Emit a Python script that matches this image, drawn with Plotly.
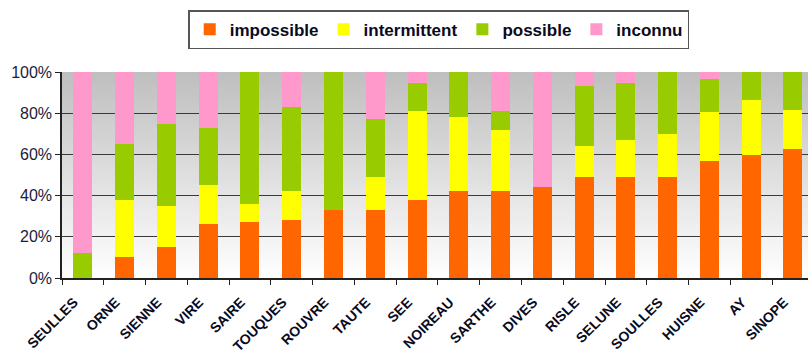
import plotly.graph_objects as go

rivieres = ["SEULLES", "ORNE", "SIENNE", "VIRE", "SAIRE", "TOUQUES", "ROUVRE", "TAUTE", "SEE",
            "NOIREAU", "SARTHE", "DIVES", "RISLE", "SELUNE", "SOULLES", "HUISNE", "AY", "SINOPE"]

impossible = [0, 10, 15, 26, 27, 28, 33, 33, 38, 42, 42, 44, 49, 49, 49, 57, 59.5, 62.5]
intermittent = [0, 28, 20, 19, 9, 14, 0, 16, 43, 36, 30, 0, 15, 18, 21, 23.5, 27, 19]
possible = [12, 27, 40, 28, 64, 41, 67, 28, 13.5, 22, 9, 0, 29, 27.5, 30, 16, 13.5, 18.5]
inconnu = [88, 35, 25, 27, 0, 17, 0, 23, 5.5, 0, 19, 56, 7, 5.5, 0, 3.5, 0, 0]

y_ticks = [0, 20, 40, 60, 80, 100]
y_labels = ["0%", "20%", "40%", "60%", "80%", "100%"]

series = [
    ("impossible", impossible, "#FF6600"),
    ("intermittent", intermittent, "#FFFF00"),
    ("possible", possible, "#99CC00"),
    ("inconnu", inconnu, "#FF99CC"),
]

fig = go.Figure()
for nom, vals, couleur in series:
    fig.add_trace(go.Bar(x=rivieres, y=vals, name=nom, marker=dict(color=couleur, line=dict(width=0))))

# fond en dégradé gris -> blanc (bandes qui se chevauchent pour éviter les traits)
n = 50
shapes = []
for k in range(n):
    t = (k + 0.5) / n
    g = int(round(255 - (255 - 190) * t))
    shapes.append(dict(type="rect", xref="paper", yref="paper", x0=0, x1=1,
                       y0=k / n, y1=min(1, (k + 1.6) / n), layer="below",
                       fillcolor=f"rgb({g},{g},{g})", line=dict(width=0)))

fig.update_layout(
    width=808, height=358,
    margin=dict(l=62, r=0, t=72, b=80, autoexpand=False),
    barmode="stack", barnorm="percent", bargap=0.545,
    paper_bgcolor="white", plot_bgcolor="rgba(0,0,0,0)",
    font=dict(family="Liberation Sans, Arial, sans-serif", color="#1c1c3c"),
    shapes=shapes,
    showlegend=True,
    legend=dict(
        orientation="h", traceorder="normal",
        x=0.505, xanchor="center", y=1.30, yanchor="top",
        bordercolor="#555555", borderwidth=1.5, bgcolor="white",
        font=dict(size=17, color="#0a0a1e", family="Liberation Sans, Arial, sans-serif", weight="bold"),
        itemwidth=30, tracegroupgap=0,
    ),
)

fig.update_xaxes(
    range=[-0.5, 17.36], tickangle=-45, tickson="boundaries",
    ticks="outside", ticklen=5, tickcolor="#222222",
    showline=True, linecolor="#222222", linewidth=1.5,
    tickfont=dict(size=14, weight="bold", color="#0a0a1e"),
    ticklabelstandoff=9, ticklabelshift=-9,
    showgrid=False,
)
fig.update_yaxes(
    range=[0, 100], tickvals=y_ticks, ticktext=y_labels,
    ticks="outside", ticklen=5, tickcolor="#222222",
    showline=True, linecolor="#222222", linewidth=1.5,
    showgrid=True, gridcolor="#3a3a3a", gridwidth=1.3,
    tickfont=dict(size=16, color="#1c1c3c"),
    zeroline=False,
)

# la page ne doit pas décaler la figure
fig.write_html("out.html", post_script="document.body.style.margin='0';",
               config={"displayModeBar": False})
